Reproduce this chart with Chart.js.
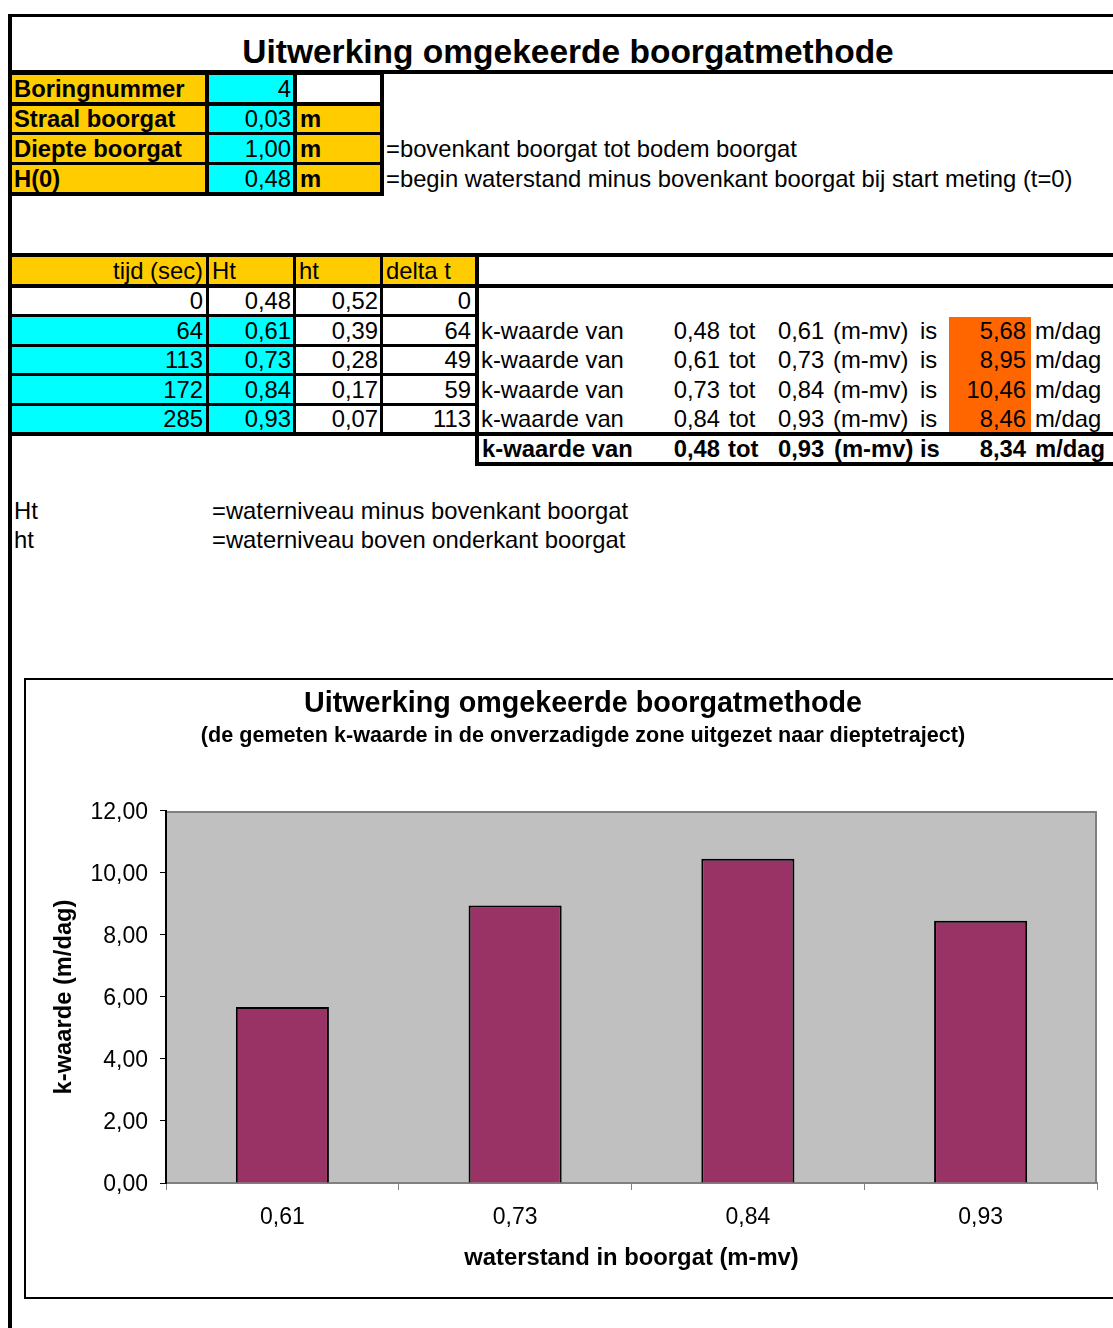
<!DOCTYPE html>
<html>
<head>
<meta charset="utf-8">
<script src="https://cdn.jsdelivr.net/npm/chart.js@4/dist/chart.umd.min.js"></script>
<style>
  html, body { margin: 0; padding: 0; background: #fff; }
  body { width: 1113px; height: 1328px; overflow: hidden; position: relative;
         font-family: "Liberation Sans", Arial, sans-serif; color: #000; }
  .r { position: absolute; }
  .t { position: absolute; white-space: nowrap; line-height: 1; }
  #chartBox { position: absolute; left: 24px; top: 678px; border: 2px solid #000;
              width: 1114px; height: 617px; background: #fff; }
  #chartBox canvas { display: block; }
</style>
</head>
<body>
<div id="sheet"></div>
<div id="chartBox"><canvas id="kChart" width="1114" height="617"></canvas></div>
<script>
// Borehole parameters
const paramLabels = ['Boringnummer', 'Straal boorgat', 'Diepte boorgat', 'H(0)'];
const paramValues = ['4', '0,03', '1,00', '0,48'];
const paramUnits = ['', 'm', 'm', 'm'];
const paramNotes = ['', '', '=bovenkant boorgat tot bodem boorgat',
  '=begin waterstand minus bovenkant boorgat bij start meting (t=0)'];

// Measurement series
const tableHeaders = ['tijd (sec)', 'Ht', 'ht', 'delta t'];
const tijd = [0, 64, 113, 172, 285];
const Ht = [0.48, 0.61, 0.73, 0.84, 0.93];
const ht = [0.52, 0.39, 0.28, 0.17, 0.07];
const deltaT = [0, 64, 49, 59, 113];

// k-values per depth interval (m/dag) and overall value
const kValues = [5.68, 8.95, 10.46, 8.46];
const kTotal = 8.34;

// Chart categories and axis
const categories = ['0,61', '0,73', '0,84', '0,93'];
const yMin = 0, yMax = 12, yStep = 2;

const fmt2 = v => v.toFixed(2).replace('.', ',');
const FONT = '"Liberation Sans", Arial, sans-serif';
const ORANGE = '#FFCC00', CYAN = '#00FFFF', KORANGE = '#FF6600';

const sheet = document.getElementById('sheet');
function rect(x, y, w, h, bg) {
  const d = document.createElement('div');
  d.className = 'r';
  Object.assign(d.style, { left: x + 'px', top: y + 'px', width: w + 'px', height: h + 'px', background: bg });
  sheet.appendChild(d);
}
// text placed by its baseline; align: left / right / center at x
function text(str, x, base, size, bold, align) {
  const d = document.createElement('div');
  d.className = 't';
  d.textContent = str;
  d.style.fontSize = size + 'px';
  d.style.fontWeight = bold ? 'bold' : 'normal';
  d.style.top = (base - 0.8465 * size) + 'px';
  if (align === 'right') { d.style.left = (x - 1000) + 'px'; d.style.width = '1000px'; d.style.textAlign = 'right'; }
  else if (align === 'center') { d.style.left = (x - 1000) + 'px'; d.style.width = '2000px'; d.style.textAlign = 'center'; }
  else d.style.left = x + 'px';
  sheet.appendChild(d);
}

const FS = 23.8;

// frame and title
rect(8, 14, 1105, 3, '#000');
rect(8, 14, 4, 1314, '#000');
rect(8, 70, 1105, 4, '#000');
text('Uitwerking omgekeerde boorgatmethode', 568, 63, 33.5, true, 'center');

// parameter block
rect(8, 70, 376, 126, '#000');
const pRows = [[75, 102], [106, 132], [135, 162], [165, 192]];
pRows.forEach((r, i) => {
  const h = r[1] - r[0];
  const base = (r[0] + r[1]) / 2 + 0.3465 * FS;
  rect(12, r[0], 193, h, ORANGE);
  rect(209, r[0], 84, h, CYAN);
  rect(297, r[0], 83, h, i === 0 ? '#fff' : ORANGE);
  text(paramLabels[i], 14, base, FS, true, 'left');
  text(paramValues[i], 291, base, FS, false, 'right');
  if (paramUnits[i]) text(paramUnits[i], 300, base, FS, true, 'left');
  if (paramNotes[i]) text(paramNotes[i], 386, base, FS, false, 'left');
});

// measurement table
const cols = [[12, 206], [209, 293], [296, 380], [383, 475]];
rect(8, 253, 1105, 4, '#000');
rect(8, 253, 471, 183, '#000');
rect(479, 257, 634, 27, '#fff');
rect(8, 284, 1105, 4, '#000');
rect(479, 288, 634, 144, '#fff');
rect(8, 432, 1105, 4, '#000');

const hdr = [257, 284];
const hBase = (hdr[0] + hdr[1]) / 2 + 0.3465 * FS;
cols.forEach((c, j) => {
  rect(c[0], hdr[0], c[1] - c[0], hdr[1] - hdr[0], ORANGE);
  if (j === 0) text(tableHeaders[j], c[1] - 3, hBase, FS, false, 'right');
  else text(tableHeaders[j], c[0] + 3, hBase, FS, false, 'left');
});

const dRows = [[288, 314], [317, 344], [347, 373], [376, 403], [406, 432]];
const rightEdge = [203, 291, 378, 471];
dRows.forEach((r, i) => {
  const base = (r[0] + r[1]) / 2 + 0.3465 * FS;
  const vals = [String(tijd[i]), fmt2(Ht[i]), fmt2(ht[i]), String(deltaT[i])];
  cols.forEach((c, j) => {
    const bg = (i > 0 && j < 2) ? CYAN : '#fff';
    rect(c[0], r[0], c[1] - c[0], r[1] - r[0], bg);
    text(vals[j], rightEdge[j], base, FS, false, 'right');
  });
});

// k-value lines
rect(949, 317, 82, 115, KORANGE);
kValues.forEach((k, i) => {
  const r = dRows[i + 1];
  const base = (r[0] + r[1]) / 2 + 0.3465 * FS;
  text('k-waarde van', 481, base, FS, false, 'left');
  text(fmt2(Ht[i]), 720, base, FS, false, 'right');
  text('tot', 729, base, FS, false, 'left');
  text(fmt2(Ht[i + 1]), 778, base, FS, false, 'left');
  text('(m-mv)', 833, base, FS, false, 'left');
  text('is', 920, base, FS, false, 'left');
  text(fmt2(k), 1026, base, FS, false, 'right');
  text('m/dag', 1035, base, FS, false, 'left');
});

// overall k-value
rect(475, 436, 4, 30, '#000');
rect(475, 462, 638, 4, '#000');
const sBase = 449 + 0.3465 * FS;
text('k-waarde van', 482, sBase, FS, true, 'left');
text(fmt2(Ht[0]), 720, sBase, FS, true, 'right');
text('tot', 728, sBase, FS, true, 'left');
text(fmt2(Ht[Ht.length - 1]), 778, sBase, FS, true, 'left');
text('(m-mv)', 834, sBase, FS, true, 'left');
text('is', 920, sBase, FS, true, 'left');
text(fmt2(kTotal), 1026, sBase, FS, true, 'right');
text('m/dag', 1035, sBase, FS, true, 'left');

// legend notes
text('Ht', 14, 519, FS, false, 'left');
text('=waterniveau minus bovenkant boorgat', 212, 519, FS, false, 'left');
text('ht', 14, 548, FS, false, 'left');
text('=waterniveau boven onderkant boorgat', 212, 548, FS, false, 'left');

// ---- chart ----
Chart.defaults.font.family = FONT;
Chart.defaults.color = '#000';

const plotBackground = {
  id: 'plotBackground',
  beforeDraw(chart) {
    const { ctx, chartArea: { left, top, right, bottom } } = chart;
    ctx.save();
    ctx.fillStyle = '#C0C0C0';
    ctx.fillRect(left, top, right - left, bottom - top);
    ctx.strokeStyle = '#808080';
    ctx.lineWidth = 2;
    ctx.beginPath();
    ctx.moveTo(left, top + 1);
    ctx.lineTo(right - 1, top + 1);
    ctx.lineTo(right - 1, bottom);
    ctx.stroke();
    ctx.restore();
  }
};

new Chart(document.getElementById('kChart'), {
  type: 'bar',
  data: {
    labels: categories,
    datasets: [{
      data: kValues,
      backgroundColor: '#993366',
      borderColor: '#000',
      borderWidth: 2,
      barPercentage: 0.4,
      categoryPercentage: 1
    }]
  },
  options: {
    responsive: false,
    animation: false,
    layout: { padding: 0 },
    plugins: {
      legend: { display: false },
      tooltip: { enabled: false },
      title: {
        display: true,
        text: 'Uitwerking omgekeerde boorgatmethode',
        color: '#000',
        font: { size: 28.7, weight: 'bold' },
        padding: { top: 6.5, bottom: 1.8 }
      },
      subtitle: {
        display: true,
        text: '(de gemeten k-waarde in de onverzadigde zone uitgezet naar dieptetraject)',
        color: '#000',
        font: { size: 21.6, weight: 'bold' },
        padding: { top: 0, bottom: 62.3 }
      }
    },
    scales: {
      x: {
        offset: true,
        grid: { display: true, drawOnChartArea: false, drawTicks: true, tickLength: 7, color: '#808080', offset: true },
        border: { display: true, color: '#808080', width: 2 },
        ticks: { font: { size: 23 }, color: '#000', padding: 14, maxRotation: 0 },
        title: {
          display: true,
          text: 'waterstand in boorgat (m-mv)',
          color: '#000',
          font: { size: 23.8, weight: 'bold' },
          padding: { top: 0, bottom: 23.8 }
        },
        afterFit(scale) { scale.height = 114; }
      },
      y: {
        min: yMin,
        max: yMax,
        ticks: { stepSize: yStep, font: { size: 23 }, color: '#000', padding: 12, labelOffset: 2, callback: v => fmt2(v) },
        grid: { display: true, drawOnChartArea: false, drawTicks: true, tickLength: 6, color: '#000' },
        border: { display: true, color: '#000', width: 2 },
        title: {
          display: true,
          text: 'k-waarde (m/dag)',
          color: '#000',
          font: { size: 23.7, weight: 'bold' },
          padding: { top: 23.8, bottom: 0 }
        },
        afterFit(scale) { scale.width = 140; }
      },
      // blank margin on the right of the plot area
      yRight: {
        type: 'linear',
        position: 'right',
        display: true,
        ticks: { display: false },
        grid: { display: false },
        border: { display: false },
        afterFit(scale) { scale.width = 43; }
      }
    }
  },
  plugins: [plotBackground]
});
</script>
</body>
</html>
